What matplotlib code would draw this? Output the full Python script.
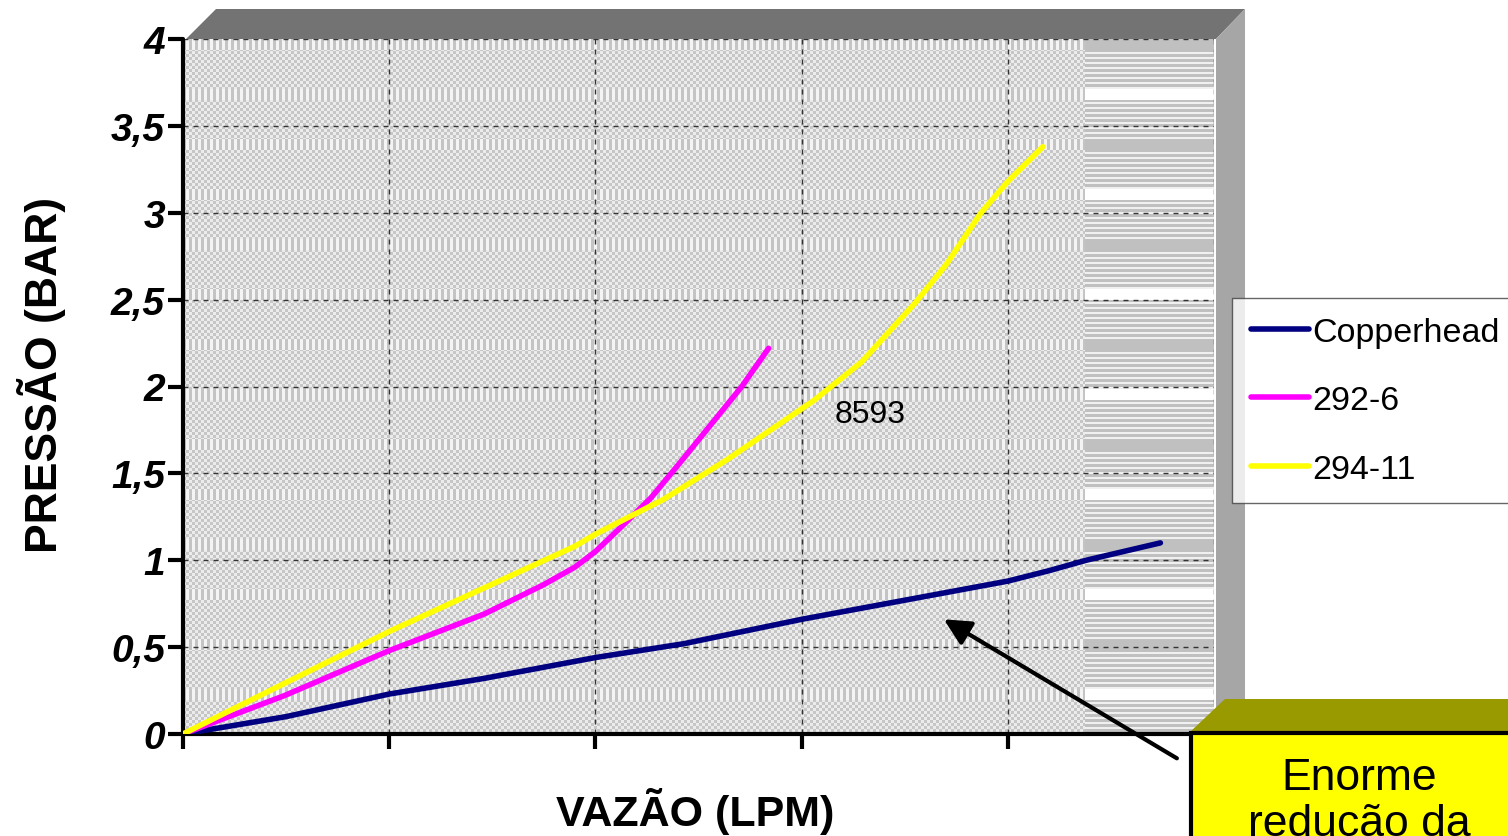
import numpy as np
import matplotlib
matplotlib.use("Agg")
import matplotlib.pyplot as plt
from matplotlib.patches import Polygon, Rectangle

plt.rcParams['font.family'] = ['Liberation Sans', 'DejaVu Sans']

# data
copper_x = [0, 0.5, 1.0, 1.46, 2.0, 2.43, 3.0, 3.5, 4.0, 4.2, 4.38, 4.74]
copper_y = [0, 0.10, 0.23, 0.32, 0.44, 0.52, 0.66, 0.77, 0.88, 0.94, 1.00, 1.10]

pink_x = [0, 0.49, 1.0, 1.46, 1.75, 1.9, 2.0, 2.15, 2.27, 2.43, 2.71, 2.84]
pink_y = [0, 0.22, 0.48, 0.69, 0.86, 0.96, 1.05, 1.22, 1.36, 1.59, 2.0, 2.22]

yellow_x = [0, 0.49, 1.0, 1.9, 2.0, 2.33, 2.64, 3.06, 3.29, 3.55, 3.7, 3.87, 4.0, 4.17]
yellow_y = [0, 0.29, 0.59, 1.08, 1.15, 1.35, 1.58, 1.92, 2.14, 2.48, 2.70, 3.0, 3.18, 3.38]

series_names = ['Copperhead', '292-6', '294-11']
series_colors = ['#000080', '#ff00ff', '#ffff00']

y_ticks = [0, 0.5, 1, 1.5, 2, 2.5, 3, 3.5, 4]
y_tick_labels = ['0', '0,5', '1', '1,5', '2', '2,5', '3', '3,5', '4']
x_ticks = [0, 1, 2, 3, 4, 5]

W, H = 1508, 837
fig = plt.figure(figsize=(W / 100, H / 100), dpi=100)


def fx(px):
    return px / W


def fy(py):
    return 1 - py / H


# plot area in pixels
L, R, T, B = 183, 1214, 40, 735
ax = fig.add_axes([fx(L), fy(B), fx(R - L), fy(T) - fy(B)])
ax.patch.set_visible(False)

# background texture (Excel picture fill look)
th, tw = B - T, R - L
rows = np.arange(th)[:, None]
cols = np.arange(tw)[None, :]
tex = np.where((rows // 3 + cols // 3) % 2 == 0, 198, 236).astype(float)
band = (rows % 50) < 11
vstripe = np.where((cols // 3) % 2 == 0, 196, 244)
tex = np.where(band, vstripe, tex)
right = cols >= (1085 - L)
hstripe = np.where(rows % 5 < 3, 192, 240)
band_k = rows // 50
band_fill = np.where(band_k % 2 == 1, 255, 192)
right_tex = np.where(band, band_fill, hstripe)
tex = np.where(right, right_tex, tex)
rgb = np.repeat((tex / 255.0)[:, :, None], 3, axis=2)
fig.figimage(rgb, xo=L, yo=H - B, origin='upper', zorder=-1)

# 3D top face and right wall
fig.patches.append(Polygon([(fx(186), fy(40)), (fx(1216), fy(40)), (fx(1245), fy(10)), (fx(216), fy(10))],
                           closed=True, facecolor='#737373', edgecolor='none', transform=fig.transFigure, zorder=-1))
fig.patches.append(Polygon([(fx(1216), fy(40)), (fx(1245), fy(10)), (fx(1245), fy(705)), (fx(1216), fy(735))],
                           closed=True, facecolor='#a6a6a6', edgecolor='none', transform=fig.transFigure, zorder=-1))

for xs, ys, name, col in zip([copper_x, pink_x, yellow_x], [copper_y, pink_y, yellow_y],
                             series_names, series_colors):
    ax.plot(xs, ys, color=col, lw=4, label=name, solid_capstyle='round', solid_joinstyle='round', zorder=3)

ax.text(3.33, 1.84, '8593', fontsize=23, ha='center', va='center', zorder=4)

ax.set_xlim(0, 5)
ax.set_ylim(0, 4)
ax.set_xticks(x_ticks)
ax.set_xticklabels([])
ax.set_yticks(y_ticks)
ax.set_yticklabels(y_tick_labels, fontsize=28, fontweight='bold', fontstyle='italic')
ax.grid(True, color='#333333', lw=1, linestyle=(0, (3.6, 3.6)))
ax.tick_params(axis='both', direction='out', length=11, width=3, pad=2)
for s in ['top', 'right']:
    ax.spines[s].set_visible(False)
for s in ['left', 'bottom']:
    ax.spines[s].set_linewidth(3)
    ax.spines[s].set_capstyle('round')

ax.set_ylabel('PRESSÃO (BAR)', fontsize=32, fontweight='bold')
ax.yaxis.set_label_coords((42 - L) / tw, (B - 375) / th)
ax.yaxis.label.set_va('center')
ax.set_xlabel('VAZÃO (LPM)', fontsize=31, fontweight='bold')
ax.xaxis.set_label_coords((695 - L) / tw, (B - 812) / th)
ax.xaxis.label.set_va('center')

leg = ax.legend(loc='upper left', bbox_to_anchor=(fx(1232), fy(299)), bbox_transform=fig.transFigure,
                borderaxespad=0, fontsize=24.5, frameon=True, fancybox=False, handlelength=1.7,
                handletextpad=0.1, labelspacing=1.1, borderpad=0.55)
leg.get_frame().set_edgecolor('#404040')
leg.get_frame().set_linewidth(1)
for ln in leg.get_lines():
    ln.set_linewidth(4)
    ln.set_solid_capstyle('round')

# arrow pointing at the Copperhead curve
ax.annotate('', xy=(3.69, 0.66), xytext=(4.82, -0.14),
            arrowprops=dict(arrowstyle='-|>', lw=3, color='black', mutation_scale=40, shrinkA=0, shrinkB=0),
            annotation_clip=False, zorder=5)

# yellow callout box with olive 3D top
fig.patches.append(Polygon([(fx(1190), fy(733)), (fx(1225), fy(700)), (fx(1530), fy(700)), (fx(1530), fy(733))],
                           closed=True, facecolor='#999900', edgecolor='none', transform=fig.transFigure, zorder=5))
fig.patches.append(Rectangle((fx(1191), fy(860)), fx(340), fy(734) - fy(860), facecolor='#ffff00',
                             edgecolor='black', lw=3, transform=fig.transFigure, zorder=5))
fig.text(fx(1359), fy(758), 'Enorme\nredução da', fontsize=32, ha='center', va='top',
         linespacing=1.15, zorder=6)

fig.savefig('out.png', dpi=100)
